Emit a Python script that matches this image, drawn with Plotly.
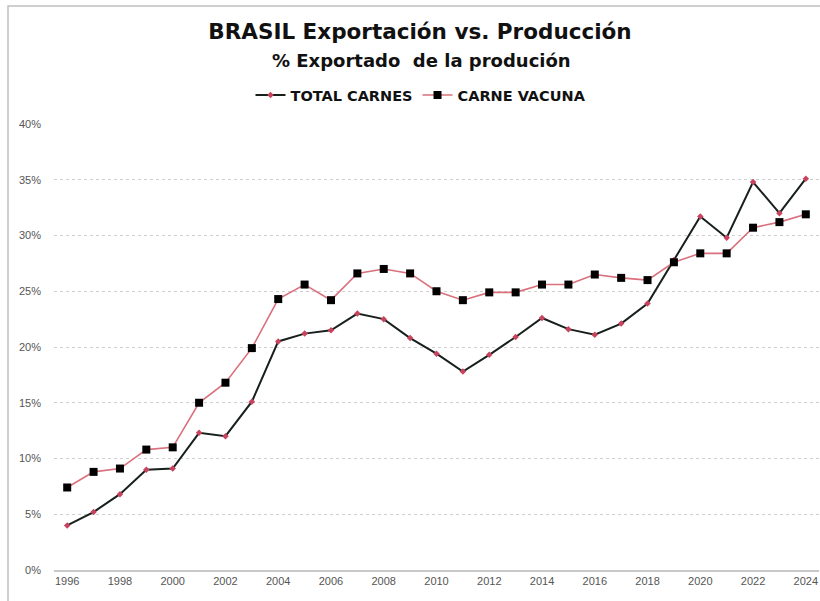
import plotly.graph_objects as go

years = list(range(1996, 2025))
total_carnes = [4.0, 5.2, 6.8, 9.0, 9.1, 12.3, 12.0, 15.1, 20.5, 21.2, 21.5, 23.0, 22.5, 20.8,
                19.4, 17.8, 19.3, 20.9, 22.6, 21.6, 21.1, 22.1, 23.9, 27.8, 31.7, 29.8, 34.8, 32.0, 35.1]
carne_vacuna = [7.4, 8.8, 9.1, 10.8, 11.0, 15.0, 16.8, 19.9, 24.3, 25.6, 24.2, 26.6, 27.0, 26.6,
                25.0, 24.2, 24.9, 24.9, 25.6, 25.6, 26.5, 26.2, 26.0, 27.6, 28.4, 28.4, 30.7, 31.2, 31.9]
y_ticks = [0, 5, 10, 15, 20, 25, 30, 35, 40]
y_tick_labels = ["0%", "5%", "10%", "15%", "20%", "25%", "30%", "35%", "40%"]
x_ticks = list(range(1996, 2025, 2))

W, H = 820, 601
L, R, T, B = 54, 1, 124, 31
PW, PH = W - L - R, H - T - B

BOLD = "DejaVu Sans, Verdana, sans-serif"

fig = go.Figure()
fig.add_trace(go.Scatter(
    x=years, y=total_carnes, name="<b>TOTAL CARNES</b>", mode="lines+markers",
    line=dict(color="#18201c", width=2),
    marker=dict(symbol="diamond", size=5, color="#c8435e"),
))
fig.add_trace(go.Scatter(
    x=years, y=carne_vacuna, name="<b>CARNE VACUNA</b>", mode="lines+markers",
    line=dict(color="#d9707c", width=1.6),
    marker=dict(symbol="square", size=8, color="#000000"),
))

fig.update_layout(
    width=W, height=H,
    margin=dict(l=L, r=R, t=T, b=B),
    paper_bgcolor="white", plot_bgcolor="white",
    font=dict(family="Liberation Sans, Arial, sans-serif", color="#222"),
    title=dict(text="<b>BRASIL Exportación vs. Producción</b>", x=(420 - L) / PW, xref="paper",
               y=1 - 31 / H, yanchor="middle", xanchor="center",
               font=dict(size=21.5, color="#111", family=BOLD)),
    showlegend=True,
    legend=dict(orientation="h", x=421 / W, xref="container", xanchor="center",
                y=1 - 95 / H, yref="container", yanchor="middle",
                font=dict(size=14.5, color="#111", family=BOLD),
                itemwidth=30, bgcolor="rgba(0,0,0,0)"),
    xaxis=dict(range=[1995.5, 2024.5], tickvals=x_ticks, ticktext=[str(v) for v in x_ticks],
               showgrid=False, zeroline=False, showline=True, linecolor="#c8c8c8", linewidth=1.5,
               ticks="", tickfont=dict(size=11, color="#555"), fixedrange=True),
    yaxis=dict(range=[0, 40], tickvals=y_ticks, ticktext=y_tick_labels,
               showgrid=True, gridcolor="#cfcfcf", griddash="dot", gridwidth=1.2,
               zeroline=False, showline=False, ticks="", ticklabelstandoff=12,
               tickfont=dict(size=11, color="#555"), fixedrange=True),
)

fig.add_annotation(text="<b>% Exportado  de la produción</b>", x=(421 - L) / PW, xref="paper",
                   y=(PH + T - 60) / PH, yref="paper", yanchor="middle", showarrow=False,
                   font=dict(size=18, color="#111", family=BOLD))

# outer chart frame (partly cropped in the original)
fig.add_shape(type="rect", xref="paper", yref="paper",
              x0=(8 - L) / PW, x1=1.1, y0=-0.3, y1=(PH + T - 6) / PH,
              line=dict(color="#c0c0c0", width=1.5), fillcolor="rgba(0,0,0,0)", layer="below")

fig.write_html("out.html", config={"displayModeBar": False},
               post_script="document.body.style.margin='0';document.body.style.overflow='hidden';")
